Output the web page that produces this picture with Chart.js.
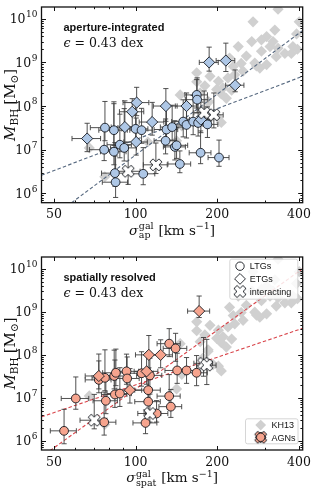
<!DOCTYPE html>
<html>
<head>
<meta charset="utf-8">
<script src="https://cdn.jsdelivr.net/npm/chart.js@4.4.0/dist/chart.umd.min.js"></script>
<style>
  html, body { margin: 0; padding: 0; background: #fff; }
  canvas { position: absolute; left: 0; }
</style>
</head>
<body>
<canvas id="apChart" width="336" height="250" style="top:0"></canvas>
<canvas id="spChart" width="336" height="250" style="top:250px"></canvas>
<script>
// ---- data: aperture-integrated (top panel) ----
const apLtgSigma = [76.6, 83.2, 77.1, 83.2, 87.5, 90.8, 100, 105.2, 83.9, 84.4, 106.7, 130, 136.4, 129, 139.6, 141.6, 149.8, 154, 163, 170, 184, 168, 168.6, 173.6, 203, 145.6];
const apLtgMass = [1.0e7, 9.0e6, 3.2e7, 2.8e7, 1.3e7, 1.1e7, 3.0e7, 2.8e7, 2.9e6, 1.8e6, 2.8e6, 2.9e7, 3.3e7, 1.6e7, 1.16e7, 1.26e7, 4.4e7, 3.7e7, 4.4e7, 4.1e7, 3.8e7, 1.8e8, 1.4e8, 8.5e6, 6.6e6, 4.7e6];
const apLtgSigErr = [9, 9, 9, 10, 9, 10, 11, 10, 9, 9, 11, 13, 13, 12, 13, 14, 14, 15, 15, 16, 17, 16, 16, 16, 18, 14];
const apLtgLo = [0.25, 0.3, 0.3, 0.35, 0.3, 0.3, 0.3, 0.3, 0.3, 0.35, 0.25, 0.3, 0.3, 0.3, 0.3, 0.3, 0.35, 0.3, 0.3, 0.3, 0.3, 0.3, 0.3, 0.25, 0.2, 0.2];
const apLtgHi = [0.5, 1.1, 0.6, 0.65, 0.7, 0.9, 0.6, 0.5, 0.7, 0.6, 0.6, 0.5, 0.5, 0.5, 0.6, 0.4, 0.5, 0.4, 0.6, 0.5, 0.4, 0.35, 0.5, 0.5, 0.4, 0.3];

const apEtgSigma = [66.3, 100.9, 97.2, 91.3, 100.5, 115.1, 129.3, 154.1, 186.7, 215.1, 232.8, 174];
const apEtgMass = [1.8e7, 1.2e8, 7.4e7, 3.3e7, 1.5e7, 4.3e7, 1.0e8, 1.0e8, 1.0e9, 1.1e9, 3.0e8, 4.9e7];
const apEtgSigErr = [8, 11, 10, 10, 10, 12, 13, 14, 15, 17, 18, 16];
const apEtgLo = [0.3, 0.3, 0.35, 0.35, 0.3, 0.3, 0.35, 0.3, 0.2, 0.25, 0.15, 0.3];
const apEtgHi = [0.35, 0.35, 0.3, 0.6, 0.55, 0.45, 0.4, 0.3, 0.35, 0.4, 0.35, 0.4];

const apIntSigma = [93.9, 118.8, 179, 194.3];
const apIntMass = [3.2e6, 4.5e6, 7.0e7, 6.3e7];
const apIntSigErr = [10, 12, 15, 16];
const apIntLo = [0.3, 0.2, 0.3, 0.3];
const apIntHi = [0.6, 0.5, 0.5, 0.5];

const apSteepSigma = [58.1, 413];
const apSteepMass = [6.1e5, 5.4e9];
const apShallowSigma = [45, 413];
const apShallowMass = [2.6e6, 4.8e8];

// ---- data: spatially resolved (bottom panel) ----
const spLtgSigma = [60.2, 54.5, 73.2, 77.1, 77.7, 76.6, 83.4, 84.6, 83.9, 87.5, 92.6, 93.1, 105.2, 112.9, 111.3, 111.3, 108.8, 119.5, 133, 140.4, 133, 134.9, 142.3, 154.1, 167.8];
const spLtgMass = [9.6e6, 1.7e6, 2.6e7, 2.9e7, 8.5e6, 2.7e6, 3.2e7, 3.8e7, 1.19e7, 1.25e7, 4.1e7, 2.8e7, 3.7e7, 3.3e7, 1.5e7, 8.1e6, 2.6e6, 4.3e6, 1.8e8, 1.4e8, 1.09e7, 6.2e6, 4.3e7, 4.3e7, 3.8e7];
const spLtgSigErr = [7, 6, 8, 8, 8, 8, 9, 9, 9, 9, 10, 10, 11, 12, 12, 12, 11, 12, 13, 14, 13, 13, 14, 15, 16];
const spLtgLo = [0.25, 0.3, 0.3, 0.3, 0.3, 0.3, 0.3, 0.3, 0.3, 0.3, 0.3, 0.3, 0.3, 0.3, 0.3, 0.3, 0.25, 0.2, 0.3, 0.3, 0.3, 0.25, 0.3, 0.3, 0.3];
const spLtgHi = [0.5, 0.5, 0.6, 0.65, 0.5, 0.7, 0.6, 0.55, 0.8, 0.6, 0.4, 0.5, 0.5, 0.4, 0.5, 0.6, 0.3, 0.3, 0.35, 0.35, 0.5, 0.4, 0.4, 0.3, 0.4];

const spEtgSigma = [171.5, 111.9, 123.7, 73.2, 109.8, 95.3];
const spEtgMass = [1.03e9, 9.9e7, 9.9e7, 3.2e7, 4.1e7, 1.5e7];
const spEtgSigErr = [16, 12, 13, 8, 11, 10];
const spEtgLo = [0.15, 0.3, 0.3, 0.3, 0.3, 0.3];
const spEtgHi = [0.35, 0.45, 0.35, 0.35, 0.4, 0.5];

const spIntSigma = [70.4, 112.9, 178, 183];
const spIntMass = [3.0e6, 4.3e6, 6.3e7, 5.7e7];
const spIntSigErr = [8, 11, 14, 15];
const spIntLo = [0.2, 0.2, 0.3, 0.45];
const spIntHi = [0.6, 0.45, 0.6, 0.6];

const spSteepSigma = [48.4, 413];
const spSteepMass = [5.9e5, 1.0e10];
const spShallowSigma = [45, 413];
const spShallowMass = [3.6e6, 4.1e8];

// ---- KH13 comparison sample (both panels) ----
const kh13Sigma = [335, 271, 326, 304, 291, 321, 268, 401, 392, 355, 335, 313, 291, 256, 275, 304, 249, 232, 168, 202, 199, 180, 207, 173, 185, 239, 188, 168, 146, 185, 180, 202, 207, 148, 111, 67.5, 77, 375, 330, 287, 222, 229, 245, 219, 210, 226, 216, 177, 193, 141.6, 380, 395, 279];
const kh13Mass = [1.65e10, 8.5e9, 5.5e9, 3.9e9, 3.3e9, 3.0e9, 3.0e9, 8.5e9, 4.5e9, 1.6e9, 2.1e9, 2.3e9, 1.8e9, 1.4e9, 9.7e8, 8.9e8, 6.3e8, 5.2e8, 5.8e8, 3.7e8, 2.4e8, 2.9e8, 1.9e8, 2.0e8, 1.3e8, 2.3e9, 4.8e8, 3.6e8, 1.8e8, 1.2e8, 7.8e7, 5.4e7, 4.2e7, 3.5e7, 1.5e7, 1.1e7, 2.4e6, 1.6e9, 1.35e9, 7.4e8, 1.26e9, 8.1e8, 9.5e8, 4.4e8, 2.6e8, 2.3e8, 1.5e8, 8.3e7, 5.9e7, 1.6e7, 2.3e9, 2.0e9, 8.3e8];

// ---- axis ticks ----
const xTickLabels = [50, 100, 200, 400];
const xMinorTicks = [60, 70, 80, 90, 300];
const yDecades = [6, 7, 8, 9, 10];

const SERIF = '"DejaVu Serif", serif';
const SANS = '"Liberation Sans", Arial, sans-serif';
const EDGE = '#15191f';

function pts(xs, ys) { return xs.map((x, i) => ({ x: x, y: ys[i] })); }

// filled "X" marker like matplotlib's 'X'
function makeX(fill) {
  const c = document.createElement('canvas');
  c.width = 16; c.height = 16;
  const g = c.getContext('2d');
  g.translate(8, 8); g.rotate(Math.PI / 4);
  const L = 6.3, t = 2.2;
  g.beginPath();
  g.moveTo(t, t); g.lineTo(t, L); g.lineTo(-t, L); g.lineTo(-t, t); g.lineTo(-L, t); g.lineTo(-L, -t);
  g.lineTo(-t, -t); g.lineTo(-t, -L); g.lineTo(t, -L); g.lineTo(t, -t); g.lineTo(L, -t); g.lineTo(L, t);
  g.closePath();
  g.fillStyle = fill; g.fill();
  g.lineWidth = 0.9; g.strokeStyle = EDGE; g.stroke();
  return c;
}
const xMarkWhite = makeX('#ffffff');

function serif(size, style) { return (style ? style + ' ' : '') + size + 'px ' + SERIF; }

function measurePart(ctx, p) {
  if (p.sup !== undefined) {
    ctx.font = serif(p.size);
    return Math.max(ctx.measureText(p.sup).width, ctx.measureText(p.sub).width) + 1;
  }
  ctx.font = serif(p.size, p.style);
  return ctx.measureText(p.t).width + (p.pad || 0);
}

function drawRich(ctx, parts, x, y, align) {
  let w = 0;
  parts.forEach(p => { p.w = measurePart(ctx, p); w += p.w; });
  let cx = align === 'center' ? x - w / 2 : x;
  parts.forEach(p => {
    if (p.sup !== undefined) {
      ctx.font = serif(p.size);
      ctx.fillText(p.sup, cx + 0.5, y - 5.5);
      ctx.fillText(p.sub, cx + 0.5, y + 3.5);
    } else {
      ctx.font = serif(p.size, p.style);
      ctx.fillText(p.t, cx, y + (p.dy || 0));
    }
    cx += p.w;
  });
}

function drawErrorBars(chart) {
  const ctx = chart.ctx, xs = chart.scales.x, ys = chart.scales.y, a = chart.chartArea;
  ctx.save();
  ctx.beginPath();
  ctx.rect(a.left, a.top, a.right - a.left, a.bottom - a.top);
  ctx.clip();
  ctx.strokeStyle = '#3d3d3d';
  ctx.lineWidth = 0.9;
  const cap = 2.6;
  chart.data.datasets.forEach(ds => {
    if (!ds.errX) return;
    ds.data.forEach((p, i) => {
      const x = xs.getPixelForValue(p.x), y = ys.getPixelForValue(p.y);
      const x0 = xs.getPixelForValue(p.x - ds.errX[i]), x1 = xs.getPixelForValue(p.x + ds.errX[i]);
      const y0 = ys.getPixelForValue(p.y / Math.pow(10, ds.errLo[i]));
      const y1 = ys.getPixelForValue(p.y * Math.pow(10, ds.errHi[i]));
      ctx.beginPath();
      ctx.moveTo(x0, y); ctx.lineTo(x1, y);
      ctx.moveTo(x, y0); ctx.lineTo(x, y1);
      ctx.moveTo(x0, y - cap); ctx.lineTo(x0, y + cap);
      ctx.moveTo(x1, y - cap); ctx.lineTo(x1, y + cap);
      ctx.moveTo(x - cap, y0); ctx.lineTo(x + cap, y0);
      ctx.moveTo(x - cap, y1); ctx.lineTo(x + cap, y1);
      ctx.stroke();
    });
  });
  ctx.restore();
}

function iconCircle(ctx, x, y, r, fill) {
  ctx.beginPath(); ctx.arc(x, y, r, 0, Math.PI * 2);
  ctx.fillStyle = fill; ctx.fill(); ctx.strokeStyle = EDGE; ctx.lineWidth = 0.9; ctx.stroke();
}
function iconDiamond(ctx, x, y, r, fill, stroke) {
  ctx.beginPath();
  ctx.moveTo(x - r, y); ctx.lineTo(x, y - r); ctx.lineTo(x + r, y); ctx.lineTo(x, y + r); ctx.closePath();
  ctx.fillStyle = fill; ctx.fill();
  if (stroke) { ctx.strokeStyle = EDGE; ctx.lineWidth = 0.9; ctx.stroke(); }
}
function legendBox(ctx, x, y, w, h) {
  ctx.beginPath();
  ctx.roundRect(x + 0.5, y + 0.5, w, h, 2);
  ctx.fillStyle = 'rgba(255,255,255,0.85)'; ctx.fill();
  ctx.strokeStyle = '#cccccc'; ctx.lineWidth = 0.8; ctx.stroke();
}

const framePlugin = {
  id: 'frame',
  beforeDatasetDraw(chart, args) {
    if (chart.data.datasets[args.index].barsBefore) drawErrorBars(chart);
  },
  afterDraw(chart) {
    const ctx = chart.ctx, a = chart.chartArea, xs = chart.scales.x, ys = chart.scales.y;
    const P = chart.options.plugins.frame;
    ctx.save();
    ctx.strokeStyle = '#111'; ctx.lineWidth = 1;
    // ticks pointing inward on all sides
    const vTick = (v, len) => {
      const px = Math.round(xs.getPixelForValue(v)) + 0.5;
      ctx.moveTo(px, a.bottom); ctx.lineTo(px, a.bottom - len);
      ctx.moveTo(px, a.top); ctx.lineTo(px, a.top + len);
    };
    const hTick = (v, len) => {
      const py = Math.round(ys.getPixelForValue(v)) + 0.5;
      if (py < a.top || py > a.bottom) return;
      ctx.moveTo(a.left, py); ctx.lineTo(a.left + len, py);
      ctx.moveTo(a.right, py); ctx.lineTo(a.right - len, py);
    };
    ctx.beginPath();
    xTickLabels.forEach(v => vTick(v, 4));
    xMinorTicks.forEach(v => vTick(v, 2.2));
    yDecades.forEach(d => hTick(Math.pow(10, d), 4.5));
    for (let d = 5; d <= 10; d++) for (let m = 2; m <= 9; m++) hTick(m * Math.pow(10, d), 2.3);
    ctx.stroke();
    // spines
    ctx.lineWidth = 1.3;
    ctx.strokeRect(a.left, a.top, a.right - a.left, a.bottom - a.top);

    ctx.fillStyle = '#111';
    ctx.textBaseline = 'alphabetic';
    // x tick labels
    ctx.textAlign = 'center';
    ctx.font = serif(12.5);
    xTickLabels.forEach(v => ctx.fillText(String(v), xs.getPixelForValue(v), a.bottom + 15.5));
    // y tick labels: 10 with raised exponent
    ctx.textAlign = 'left';
    yDecades.forEach(d => {
      const py = ys.getPixelForValue(Math.pow(10, d));
      ctx.font = serif(9); const ew = ctx.measureText(String(d)).width;
      ctx.font = serif(12.5); const bw = ctx.measureText('10').width;
      const x0 = a.left - 4.5 - ew - bw;
      ctx.fillText('10', x0, py + 4.5);
      ctx.font = serif(9);
      ctx.fillText(String(d), x0 + bw + 0.5, py - 1.8);
    });
    // x axis title
    drawRich(ctx, [
      { t: 'σ', size: 13.5, style: 'italic' },
      { sup: 'gal', sub: P.sub, size: 9.5 },
      { t: ' [km s', size: 13.5 },
      { t: '−1', size: 9.5, dy: -5.5 },
      { t: ']', size: 13.5 }
    ], (a.left + a.right) / 2, a.bottom + 32, 'center');
    // y axis title
    ctx.save();
    ctx.translate(15, (a.top + a.bottom) / 2);
    ctx.rotate(-Math.PI / 2);
    drawRich(ctx, [
      { t: 'M', size: 15, style: 'italic' },
      { t: 'BH', size: 10.5, dy: 3, pad: 4 },
      { t: '[M', size: 15 },
      { t: '⊙', size: 10.5, dy: 3 },
      { t: ']', size: 15 }
    ], 0, 0, 'center');
    ctx.restore();
    // panel labels
    ctx.font = 'bold 11px ' + SANS;
    ctx.fillText(P.title, 63.5, a.top + 23.5);
    drawRich(ctx, [
      { t: 'ϵ', size: 12.5, style: 'italic' },
      { t: ' = 0.43 dex', size: 12.5 }
    ], 63.5, a.top + 39.5, 'left');

    if (P.legends) {
      // marker-shape legend (top right)
      const lx = a.right - 73.4, ly = a.top + 1.7;
      legendBox(ctx, lx, ly, 68, 40);
      iconCircle(ctx, lx + 10.7, ly + 7.5, 4.2, '#fff');
      iconDiamond(ctx, lx + 10.7, ly + 20.2, 5.4, '#fff', true);
      ctx.drawImage(xMarkWhite, lx + 10.7 - 8, ly + 32.8 - 8);
      ctx.fillStyle = '#111';
      ctx.font = '9px ' + SANS;
      ctx.fillText('LTGs', lx + 20.5, ly + 10.7);
      ctx.fillText('ETGs', lx + 20.5, ly + 23.5);
      ctx.fillText('interacting', lx + 20.5, ly + 36.2);
      // sample legend (bottom right)
      const bx = a.right - 57.7, by = a.bottom - 31.7;
      legendBox(ctx, bx, by, 52.5, 25);
      iconDiamond(ctx, bx + 15.7, by + 6.8, 5.4, '#d0d0d0', false);
      iconCircle(ctx, bx + 15.7, by + 19, 4.6, P.fill);
      ctx.drawImage(makeX(P.fill), bx + 15.7 - 8, by + 19 - 8);
      iconDiamond(ctx, bx + 15.7, by + 19, 5.2, P.fill, true);
      iconCircle(ctx, bx + 15.7, by + 19, 4.2, P.fill);
      ctx.fillStyle = '#111';
      ctx.font = '9px ' + SANS;
      ctx.fillText('KH13', bx + 26.5, by + 10);
      ctx.fillText('AGNs', bx + 26.5, by + 22.5);
    }
    ctx.restore();
  }
};

function buildPanel(id, P) {
  new Chart(document.getElementById(id), {
    type: 'scatter',
    data: {
      datasets: [
        { label: 'interacting', data: pts(P.int[0], P.int[1]), errX: P.int[2], errLo: P.int[3], errHi: P.int[4],
          pointStyle: xMarkWhite, pointRadius: 6, order: 1, clip: 0 },
        { label: 'ETGs', data: pts(P.etg[0], P.etg[1]), errX: P.etg[2], errLo: P.etg[3], errHi: P.etg[4],
          pointStyle: 'rectRot', pointRadius: 5.6, backgroundColor: P.fill, borderColor: EDGE, borderWidth: 0.9, order: 2, clip: 0 },
        { label: 'LTGs', data: pts(P.ltg[0], P.ltg[1]), errX: P.ltg[2], errLo: P.ltg[3], errHi: P.ltg[4], barsBefore: true,
          pointStyle: 'circle', pointRadius: 4.4, backgroundColor: P.fill, borderColor: EDGE, borderWidth: 0.9, order: 3, clip: 0 },
        { label: 'steep', data: pts(P.steep[0], P.steep[1]), showLine: true, pointRadius: 0,
          borderColor: P.lineColor, borderWidth: 1.1, borderDash: [3.5, 2.2], order: 4 },
        { label: 'shallow', data: pts(P.shallow[0], P.shallow[1]), showLine: true, pointRadius: 0,
          borderColor: P.lineColor, borderWidth: 1.1, borderDash: [3.5, 2.2], order: 4 },
        { label: 'KH13', data: pts(kh13Sigma, kh13Mass), pointStyle: 'rectRot', pointRadius: 5.6,
          backgroundColor: '#d0d0d0', borderWidth: 0, order: 6, clip: 0 }
      ]
    },
    options: {
      responsive: false,
      animation: false,
      devicePixelRatio: 1,
      events: [],
      layout: { padding: { top: P.padTop, right: 33.3, left: 0, bottom: 0 } },
      scales: {
        x: { type: 'logarithmic', min: 45, max: 413,
             grid: { display: false }, border: { display: false }, ticks: { display: false },
             afterFit: s => { s.height = P.xAxisH; } },
        y: { type: 'logarithmic', min: 6.1e5, max: 1.86e10,
             grid: { display: false }, border: { display: false }, ticks: { display: false },
             afterFit: s => { s.width = 41.5; } }
      },
      plugins: {
        legend: { display: false },
        tooltip: { enabled: false },
        frame: P
      }
    },
    plugins: [framePlugin]
  });
}

buildPanel('apChart', {
  title: 'aperture-integrated', sub: 'ap', fill: '#aec7e6', lineColor: '#56687f',
  padTop: 4.7, xAxisH: 47.3, legends: false,
  ltg: [apLtgSigma, apLtgMass, apLtgSigErr, apLtgLo, apLtgHi],
  etg: [apEtgSigma, apEtgMass, apEtgSigErr, apEtgLo, apEtgHi],
  int: [apIntSigma, apIntMass, apIntSigErr, apIntLo, apIntHi],
  steep: [apSteepSigma, apSteepMass],
  shallow: [apShallowSigma, apShallowMass]
});

buildPanel('spChart', {
  title: 'spatially resolved', sub: 'spat', fill: '#f6a48e', lineColor: '#d9444a',
  padTop: 2.3, xAxisH: 50, legends: true,
  ltg: [spLtgSigma, spLtgMass, spLtgSigErr, spLtgLo, spLtgHi],
  etg: [spEtgSigma, spEtgMass, spEtgSigErr, spEtgLo, spEtgHi],
  int: [spIntSigma, spIntMass, spIntSigErr, spIntLo, spIntHi],
  steep: [spSteepSigma, spSteepMass],
  shallow: [spShallowSigma, spShallowMass]
});
</script>
</body>
</html>
